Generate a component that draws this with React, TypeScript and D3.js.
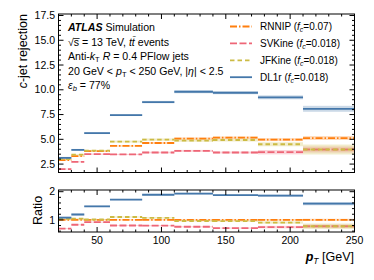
import React from "react";
import * as d3 from "d3";

// pT bin edges [GeV]
const binEdges = [20, 30, 40, 60, 85, 110, 140, 175, 210, 250];

// c-jet rejection per bin
const rnnipVals = [2.9, 3.3, 3.8, 4.33, 4.63, 5.07, 5.17, 4.97, 5.13];
const rnnipErr = [0.06, 0.06, 0.06, 0.08, 0.1, 0.12, 0.12, 0.15, 0.2];
const svkineVals = [2.0, 2.73, 3.5, 3.47, 3.67, 3.83, 3.67, 3.7, 3.97];
const svkineErr = [0.05, 0.05, 0.06, 0.06, 0.08, 0.1, 0.1, 0.22, 0.3];
const jfkineVals = [3.0, 3.45, 3.85, 4.77, 4.97, 4.87, 4.93, 4.5, 3.97];
const jfkineErr = [0.06, 0.06, 0.08, 0.1, 0.12, 0.12, 0.15, 0.2, 0.5];
const dl1rVals = [3.13, 3.93, 5.63, 7.45, 8.76, 9.8, 9.7, 9.24, 8.08];
const dl1rErr = [0.1, 0.1, 0.1, 0.1, 0.12, 0.15, 0.15, 0.2, 0.3];

const xTicks = [50, 100, 150, 200, 250];
const yTicksTop = [2.5, 5.0, 7.5, 10.0, 12.5, 15.0, 17.5];
const yTicksBot = [1, 2];

const series = [
  { name: "RNNIP", fc: "0.07", vals: rnnipVals, err: rnnipErr, color: "#FF7F0E", dash: "7,2,1.5,2" },
  { name: "SVKine", fc: "0.018", vals: svkineVals, err: svkineErr, color: "#EE6677", dash: "7,2.5" },
  { name: "JFKine", fc: "0.018", vals: jfkineVals, err: jfkineErr, color: "#CCBB44", dash: "4.5,3" },
  { name: "DL1r", fc: "0.018", vals: dl1rVals, err: dl1rErr, color: "#4477AA", dash: "none" },
];

const font = "'Liberation Sans', Arial, Helvetica, sans-serif";

const left = 58.5;
const right = 354.5;
const topY0 = 14;
const topY1 = 172.5;
const botY0 = 190;
const botY1 = 232;

const App = () => {
  const x = d3.scaleLinear().domain([20, 250]).range([left, right]);
  const yTop = d3.scaleLinear().domain([1.65, 17.65]).range([topY1, topY0]);
  const yBot = d3.scaleLinear().domain([0.57, 2.06]).range([botY1, botY0]);

  const xMinor = d3.range(30, 250, 10);
  const yMinorTop = d3.range(2.0, 17.6, 0.5);
  const yMinorBot = d3.range(0.6, 2.05, 0.2);

  // ratio to RNNIP
  const ratio = (s) => ({
    ...s,
    vals: s.vals.map((v, i) => v / rnnipVals[i]),
    err: s.err.map((e, i) => e / rnnipVals[i]),
  });

  const drawSeries = (list, y, key) =>
    list.map((s) => (
      <g key={key + s.name}>
        {s.vals.map((v, i) => (
          <rect
            key={"b" + i}
            x={x(binEdges[i])}
            width={x(binEdges[i + 1]) - x(binEdges[i])}
            y={y(v + s.err[i])}
            height={y(v - s.err[i]) - y(v + s.err[i])}
            fill={s.color}
            opacity={0.28}
          />
        ))}
        {s.vals.map((v, i) => (
          <line
            key={"l" + i}
            x1={x(binEdges[i])}
            x2={x(binEdges[i + 1])}
            y1={y(v)}
            y2={y(v)}
            stroke={s.color}
            strokeWidth={1.8}
            strokeDasharray={s.dash}
          />
        ))}
      </g>
    ));

  const frame = (y0, y1, y, majors, minors, key) => (
    <g key={key}>
      <clipPath id={"clip" + key}>
        <rect x={left} y={y0} width={right - left} height={y1 - y0} />
      </clipPath>
      {xTicks.map((t) => (
        <g key={"xt" + t}>
          <line x1={x(t)} x2={x(t)} y1={y1} y2={y1 - 5} stroke="#000" />
          <line x1={x(t)} x2={x(t)} y1={y0} y2={y0 + 5} stroke="#000" />
        </g>
      ))}
      {xMinor.filter((t) => t % 50 !== 0).map((t) => (
        <g key={"xm" + t}>
          <line x1={x(t)} x2={x(t)} y1={y1} y2={y1 - 2.5} stroke="#000" />
          <line x1={x(t)} x2={x(t)} y1={y0} y2={y0 + 2.5} stroke="#000" />
        </g>
      ))}
      {majors.map((t) => (
        <g key={"yt" + t}>
          <line x1={left} x2={left + 5} y1={y(t)} y2={y(t)} stroke="#000" />
          <line x1={right} x2={right - 5} y1={y(t)} y2={y(t)} stroke="#000" />
        </g>
      ))}
      {minors.map((t) => (
        <g key={"ym" + t}>
          <line x1={left} x2={left + 2.5} y1={y(t)} y2={y(t)} stroke="#000" />
          <line x1={right} x2={right - 2.5} y1={y(t)} y2={y(t)} stroke="#000" />
        </g>
      ))}
      <rect x={left} y={y0} width={right - left} height={y1 - y0} fill="none" stroke="#000" strokeWidth={1} />
    </g>
  );

  const ratioSeries = series.map(ratio);

  return (
    <svg width={374} height={280} style={{ position: "absolute", left: 0, top: 0, background: "#fff" }} fontFamily={font}>
      <g clipPath="url(#cliptop)">{drawSeries(series, yTop, "top")}</g>
      <g clipPath="url(#clipbot)">{drawSeries(ratioSeries, yBot, "bot")}</g>
      {frame(topY0, topY1, yTop, yTicksTop, yMinorTop.filter((t) => Math.abs(t / 2.5 - Math.round(t / 2.5)) > 1e-6), "top")}
      {frame(botY0, botY1, yBot, yTicksBot, yMinorBot.filter((t) => Math.abs(t - Math.round(t)) > 1e-6), "bot")}

      {yTicksTop.map((t) => (
        <text key={"lt" + t} x={55} y={yTop(t) + 3.7} fontSize={10.5} textAnchor="end">
          {t.toFixed(1)}
        </text>
      ))}
      {yTicksBot.map((t) => (
        <text key={"lb" + t} x={55} y={yBot(t) + 3.7} fontSize={10.5} textAnchor="end">
          {t}
        </text>
      ))}
      {xTicks.map((t) => (
        <text key={"lx" + t} x={x(t)} y={244} fontSize={10.5} textAnchor="middle">
          {t}
        </text>
      ))}

      <text transform="translate(27,14) rotate(-90)" fontSize={12.5} textAnchor="end">
        <tspan fontStyle="italic">c</tspan>-jet rejection
      </text>
      <text transform="translate(42,210.5) rotate(-90)" fontSize={12.5} textAnchor="middle">
        Ratio
      </text>
      <text x={354} y={261} fontSize={12.5} textAnchor="end">
        <tspan fontStyle="italic" fontWeight="bold">p</tspan>
        <tspan fontStyle="italic" fontSize={8.5} dy={3}>T</tspan>
        <tspan dy={-3}> [GeV]</tspan>
      </text>

      <g fontSize={10.6}>
        <text x={68} y={30.5}>
          <tspan fontWeight="bold" fontStyle="italic">ATLAS</tspan> Simulation
        </text>
        <text x={68} y={45.5}>
          √{"s\u0305"} = 13 TeV, <tspan fontStyle="italic">{"tt\u0304"}</tspan> events
        </text>
        <text x={68} y={60}>
          Anti-<tspan fontStyle="italic">k</tspan>
          <tspan fontSize={7.5} dy={2}>T</tspan>
          <tspan dy={-2}> </tspan>
          <tspan fontStyle="italic">R</tspan> = 0.4 PFlow jets
        </text>
        <text x={68} y={74.5}>
          20 GeV &lt; <tspan fontStyle="italic">p</tspan>
          <tspan fontSize={7.5} dy={2}>T</tspan>
          <tspan dy={-2}> &lt; 250 GeV, |</tspan>
          <tspan fontStyle="italic">η</tspan>| &lt; 2.5
        </text>
        <text x={68} y={89}>
          <tspan fontStyle="italic">ε</tspan>
          <tspan fontStyle="italic" fontSize={7.5} dy={2}>b</tspan>
          <tspan dy={-2}> = 77%</tspan>
        </text>
      </g>

      <g fontSize={10}>
        {series.map((s, i) => {
          const cy = 26.5 + i * 16.9;
          return (
            <g key={"lg" + s.name}>
              <line x1={230} x2={252} y1={cy} y2={cy} stroke={s.color} strokeWidth={1.8} strokeDasharray={s.dash} />
              <text x={260} y={cy + 3.6}>
                {s.name} (<tspan fontStyle="italic">f</tspan>
                <tspan fontStyle="italic" fontSize={7} dy={2}>c</tspan>
                <tspan dy={-2}>={s.fc})</tspan>
              </text>
            </g>
          );
        })}
      </g>
    </svg>
  );
};

export default App;
